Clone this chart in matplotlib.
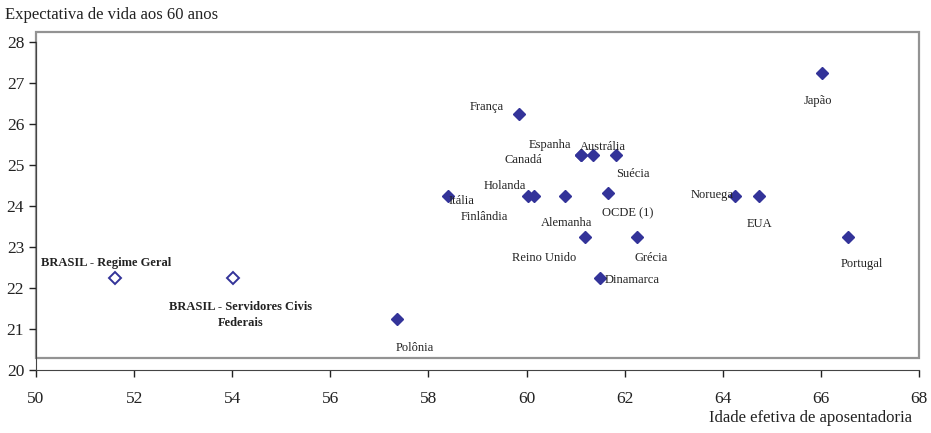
"""
Expectativa de vida aos 60 anos x idade efetiva de aposentadoria.
"""
import matplotlib
matplotlib.use("Agg")
import matplotlib.pyplot as plt
from matplotlib.patches import Rectangle

paises = ["Japão", "França", "Espanha", "Canadá", "Austrália", "Suécia",
          "Itália", "Holanda", "Finlândia", "Alemanha", "OCDE (1)",
          "Reino Unido", "Grécia", "Dinamarca", "Noruega", "EUA",
          "Portugal", "Polônia"]
idade = [66.03, 59.85, 61.11, 61.11, 61.35, 61.82,
         58.40, 60.03, 60.16, 60.78, 61.67,
         61.20, 62.26, 61.50, 64.26, 64.73,
         66.56, 57.35]
expectativa = [27.25, 26.25, 25.25, 25.25, 25.25, 25.25,
               24.25, 24.25, 24.25, 24.25, 24.32,
               23.25, 23.25, 22.25, 24.25, 24.25,
               23.25, 21.25]
# deslocamento dos rótulos (pixels)
desloc = [(-4, -28), (-32, 7), (-31, 10), (-58, -5), (10, 8), (17, -19),
          (13, -5), (-23, 10), (-50, -21), (2, -27), (19, -20),
          (-41, -21), (14, -21), (32, -2), (-23, 1), (1, -28),
          (14, -27), (18, -29)]

brasil = ["BRASIL - Regime Geral", "BRASIL - Servidores Civis\nFederais"]
brasil_idade = [51.62, 54.02]
brasil_expect = [22.25, 22.25]
brasil_desloc = [(-9, 15), (7, -37)]

azul = "#333399"
plt.rcParams["font.family"] = ["Liberation Serif", "DejaVu Serif"]

fig = plt.figure(figsize=(9.31, 4.33), dpi=100)
ax = fig.add_axes([0.0387, 0.1455, 0.9483, 0.7812])
ax.set_xlim(50, 68)
ax.set_ylim(20, 28.25)

ax.add_patch(Rectangle((50, 20.29), 18, 7.96, fill=False, edgecolor="#939393",
                       linewidth=1.6, zorder=1, clip_on=False))

ax.plot(idade, expectativa, linestyle="none", marker="D", markersize=6.4,
        color=azul, zorder=3)
ax.plot(brasil_idade, brasil_expect, linestyle="none", marker="D", markersize=6.2,
        markerfacecolor="white", markeredgecolor=azul, markeredgewidth=1.4, zorder=3)

for nome, x, y, d in zip(paises, idade, expectativa, desloc):
    ax.annotate(nome, (x, y), xytext=d, textcoords="offset pixels",
                ha="center", va="center", fontsize=9, color="#222222", zorder=4)
for nome, x, y, d in zip(brasil, brasil_idade, brasil_expect, brasil_desloc):
    ax.annotate(nome, (x, y), xytext=d, textcoords="offset pixels",
                ha="center", va="center", fontsize=9, fontweight="bold",
                color="#222222", linespacing=1.4, zorder=4)

ax.set_xticks(range(50, 69, 2))
ax.set_yticks(range(20, 29))
ax.tick_params(axis="both", labelsize=12.5, colors="#222222", length=5, width=1)
ax.tick_params(axis="x", pad=10)
for lado in ["top", "right"]:
    ax.spines[lado].set_visible(False)
ax.spines["left"].set_bounds(20, 28)
for lado in ["left", "bottom"]:
    ax.spines[lado].set_color("#444444")

fig.text(0.005, 0.965, "Expectativa de vida aos 60 anos", fontsize=12,
         ha="left", va="center", color="#222222")
fig.text(0.98, 0.035, "Idade efetiva de aposentadoria", fontsize=12,
         ha="right", va="center", color="#222222")

fig.savefig("out.png", dpi=100)
